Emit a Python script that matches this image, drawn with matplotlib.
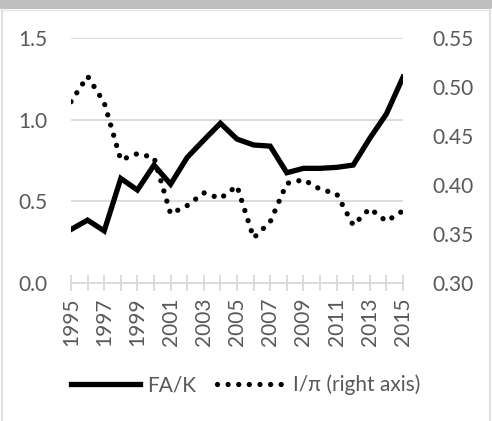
import matplotlib
matplotlib.use("Agg")
import matplotlib.pyplot as plt
from matplotlib.patches import Rectangle
from matplotlib.lines import Line2D

years = list(range(1995, 2016))
fa_k = [0.328, 0.385, 0.319, 0.640, 0.569, 0.722, 0.605, 0.769, 0.875, 0.978,
        0.881, 0.845, 0.838, 0.675, 0.702, 0.702, 0.708, 0.722, 0.886, 1.035, 1.260]
i_pi = [0.485, 0.511, 0.484, 0.4255, 0.432, 0.428, 0.3706, 0.379, 0.392, 0.3863,
        0.399, 0.346, 0.3624, 0.4016, 0.4054, 0.3958, 0.391, 0.359, 0.376, 0.363, 0.3737]
left_ticks = [0.0, 0.5, 1.0, 1.5]
right_ticks = [0.30, 0.35, 0.40, 0.45, 0.50, 0.55]

plt.rcParams['font.family'] = ['Lato', 'DejaVu Sans']
txt = '#595959'
grid = '#D9D9D9'
fs = 15
W, H = 492, 421
fig = plt.figure(figsize=(W / 100, H / 100), dpi=100)

# top band and border
fig.patches.append(Rectangle((0, 1 - 9 / H), 1, 9 / H, transform=fig.transFigure,
                             facecolor='#BFBFBF', edgecolor='none', zorder=0))
fig.add_artist(Line2D([1.5 / W, 1.5 / W], [0, 1 - 9 / H], transform=fig.transFigure, color=grid, lw=1.2))
fig.add_artist(Line2D([490 / W, 490 / W], [0, 1 - 9 / H], transform=fig.transFigure, color=grid, lw=1.2))
fig.add_artist(Line2D([1.5 / W, 490 / W], [1 - 9.5 / H, 1 - 9.5 / H], transform=fig.transFigure, color='#E6E6E6', lw=1))

ax = fig.add_axes([71 / W, 1 - 283 / H, (403 - 71) / W, (283 - 38) / H])
ax2 = ax.twinx()

ax.set_xlim(1995, 2015)
ax.set_ylim(0, 1.5)
ax2.set_ylim(0.30, 0.55)

for y in left_ticks[1:]:
    ax.axhline(y, color=grid, lw=1.3, zorder=0)

lw = 3.8
ax.plot(years, fa_k, color='black', lw=lw, solid_joinstyle='miter', zorder=3)
ax2.plot(years, i_pi, color='black', lw=lw, linestyle=(0, (0.01, 2.0)),
         dash_capstyle='round', zorder=3)

for a in (ax, ax2):
    for s in a.spines.values():
        s.set_visible(False)
ax.spines['bottom'].set_visible(True)
ax.spines['bottom'].set_color(grid)
ax.spines['bottom'].set_linewidth(1.3)

ax.set_yticks(left_ticks)
ax.set_yticklabels([f'{v:.1f}' for v in left_ticks])
ax2.set_yticks(right_ticks)
ax2.set_yticklabels([f'{v:.2f}' for v in right_ticks])
ax.tick_params(axis='y', length=0, pad=17, labelsize=fs, labelcolor=txt)
ax2.tick_params(axis='y', length=0, pad=21, labelsize=fs, labelcolor=txt)

ax.set_xticks(years)
ax.set_xticklabels([str(y) if (y - 1995) % 2 == 0 else '' for y in years], rotation=90)
ax.tick_params(axis='x', direction='inout', length=11, width=1.3, color=grid,
               pad=5, labelsize=fs, labelcolor=txt)

handles = [Line2D([], [], color='black', lw=lw),
           Line2D([], [], color='black', lw=lw, linestyle=(0, (0.01, 2.0)), dash_capstyle='round')]
fig.legend(handles, ['FA/K', 'I/π (right axis)'], loc='center', bbox_to_anchor=(0.5, 1 - 385 / H),
           ncol=2, frameon=False, fontsize=fs, labelcolor=txt, handlelength=3.3,
           handletextpad=0.35, columnspacing=1.0)

fig.savefig('out.png', dpi=100)
